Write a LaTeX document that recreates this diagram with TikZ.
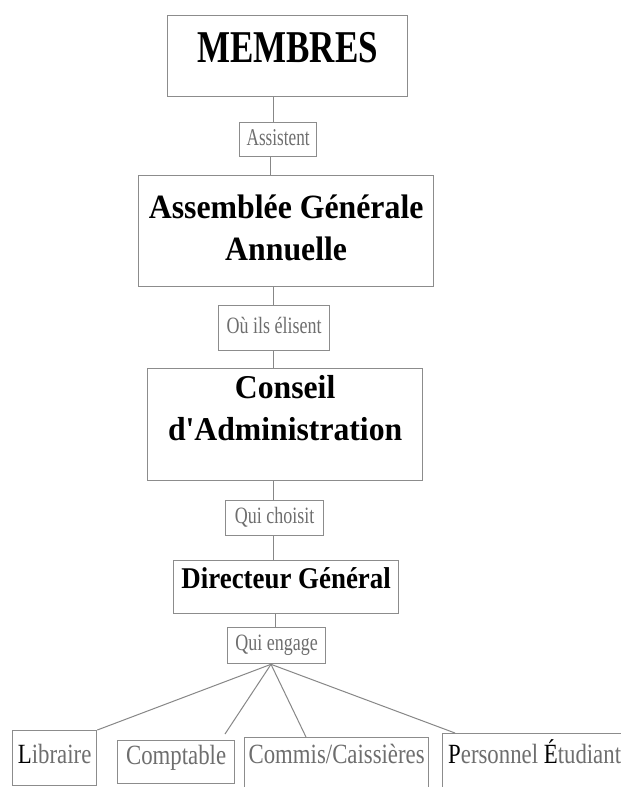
\documentclass[tikz,border=0pt]{standalone}
\usepackage{graphicx}
\usepackage{fontspec}
\setmainfont{Liberation Serif}
\definecolor{boxgray}{RGB}{140,140,140}
\definecolor{linegray}{RGB}{135,135,135}
\definecolor{labgray}{RGB}{110,110,110}
\newcommand{\vstretch}[2]{\scalebox{1}[#1]{#2}}
\newcommand{\smalllab}[1]{\fontsize{18}{21}\selectfont\color{labgray}\vstretch{1.3}{#1}}
\newcommand{\botlab}[1]{\fontsize{22.8}{26}\selectfont\color{labgray}\vstretch{1.22}{#1}}
\tikzset{
  frame/.style={draw=boxgray, line width=1.3pt, inner sep=0pt, anchor=north west},
  link/.style={draw=linegray, line width=1pt},
}
\begin{document}
\begin{tikzpicture}[x=1pt,y=-1pt]
\path[use as bounding box, clip] (0,0) rectangle (621,787);
\fill[white] (0,0) rectangle (621,787);

% main chain
\node[frame, minimum width=240pt, text height=47pt, text depth=34pt] (membres) at (167,15)
  {\fontsize{35}{40}\selectfont\bfseries\vstretch{1.3}{MEMBRES}};
\node[frame, minimum width=77pt, text height=23pt, text depth=11pt] (assist) at (239,122)
  {\fontsize{17.2}{20}\selectfont\color{labgray}\vstretch{1.4}{Assistent}};
\node[frame, minimum width=295pt, text height=43pt, text depth=68pt] (age) at (138,175)
  {\parbox[t]{295pt}{\centering\fontsize{31.8}{42}\selectfont\bfseries
   \vstretch{1.07}{Assemblée Générale}\\\vstretch{1.07}{Annuelle}}};
\node[frame, minimum width=111pt, text height=28pt, text depth=17pt] (elisent) at (218,305)
  {\smalllab{Où ils élisent}};
\node[frame, minimum width=275pt, text height=30pt, text depth=82pt] (conseil) at (147,368)
  {\parbox[t]{275pt}{\centering\fontsize{31.7}{42}\selectfont\bfseries
   \vstretch{1.05}{Conseil}\\\vstretch{1.05}{d\textquotesingle Administration}}};
\node[frame, minimum width=98pt, text height=23pt, text depth=12pt] (choisit) at (225,500)
  {\smalllab{Qui choisit}};
\node[frame, minimum width=225pt, text height=28pt, text depth=25pt] (dg) at (173,560)
  {\fontsize{26.9}{32}\selectfont\bfseries\vstretch{1.12}{Directeur Général}};
\node[frame, minimum width=98pt, text height=23pt, text depth=13pt] (engage) at (227,627)
  {\smalllab{Qui engage}};

% bottom row
\node[frame, minimum width=84pt, text height=33pt, text depth=22pt] (lib) at (12,730)
  {\botlab{{\color{black}L}ibraire}};
\node[frame, minimum width=117pt, text height=24pt, text depth=19pt] (compt) at (117,740)
  {\botlab{Comptable}};
\node[frame, minimum width=184pt, text height=26pt, text depth=40pt] (commis) at (244,737)
  {\botlab{Commis/Caissières}};
\node[frame, minimum width=184pt, text height=30pt, text depth=40pt] (perso) at (442,733)
  {\botlab{{\color{black}P}ersonnel {\color{black}É}tudiant}};

% connector x positions
\coordinate (xa) at (273,0);
\coordinate (xb) at (270,0);
\coordinate (xc) at (275,0);
\coordinate (xh) at (271,0);

\draw[link] (membres.south -| xa) -- (assist.north -| xa);
\draw[link] (assist.south -| xb) -- (age.north -| xb);
\draw[link] (age.south -| xa) -- (elisent.north -| xa);
\draw[link] (elisent.south -| xa) -- (conseil.north -| xa);
\draw[link] (conseil.south -| xa) -- (choisit.north -| xa);
\draw[link] (choisit.south -| xa) -- (dg.north -| xa);
\draw[link] (dg.south -| xc) -- (engage.north -| xc);

\coordinate (hub) at (engage.south -| xh);
\coordinate (endC) at (225,734);
\coordinate (endM) at (306,737);
\coordinate (endP) at (455,733);
\draw[link] (hub) -- (lib.north east);
\draw[link] (hub) -- (endC);
\draw[link] (hub) -- (endM);
\draw[link] (hub) -- (endP);
\end{tikzpicture}
\end{document}
